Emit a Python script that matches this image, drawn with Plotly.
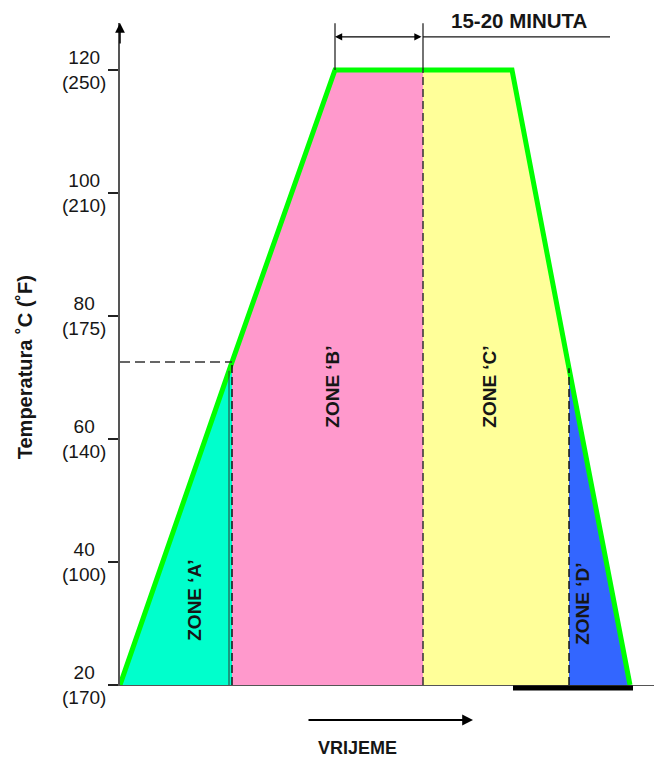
import numpy as np
import plotly.graph_objects as go

# ---------------- data ----------------
profile_time = [0.0, 22.4, 43.0, 78.4, 89.8, 102.0]
profile_temp = [20.0, 72.5, 120.0, 120.0, 71.5, 20.0]

zone_edges = [0.0, 22.4, 60.6, 89.8, 102.0]
zone_names = ["ZONE \u2018A\u2019", "ZONE \u2018B\u2019", "ZONE \u2018C\u2019", "ZONE \u2018D\u2019"]
zone_colors = ["#00FFCC", "#FF99CC", "#FFFF99", "#3366FF"]
zone_label_x = [15.0, 42.6, 74.0, 92.6]
zone_label_y = [33.7, 68.5, 68.5, 33.2]

tick_vals = [20, 40, 60, 80, 100, 120]
tick_f = ["(170)", "(100)", "(140)", "(175)", "(210)", "(250)"]

hold_start = 43.0      # start of 15-20 min dimension
hold_mid = 60.6        # B/C boundary
dim_line_end = 98.0
dim_y = 125.4
bottom_bar = [78.6, 102.6]
time_arrow = [37.4, 70.6]

FONT = "Liberation Sans, Arial, sans-serif"
INK = "#161616"

fig = go.Figure()

# zone fills
pt = np.array(profile_time)
pv = np.array(profile_temp)
for i in range(4):
    x0, x1 = zone_edges[i], zone_edges[i + 1]
    inner = [(t, v) for t, v in zip(pt, pv) if x0 < t < x1]
    xs = [x0, x0] + [p[0] for p in inner] + [x1, x1]
    ys = [20, float(np.interp(x0, pt, pv))] + [p[1] for p in inner] + [float(np.interp(x1, pt, pv)), 20]
    fig.add_trace(go.Scatter(x=xs, y=ys, fill="toself", fillcolor=zone_colors[i],
                             mode="lines", line=dict(width=0), hoverinfo="skip",
                             showlegend=False))

# green profile
fig.add_trace(go.Scatter(x=profile_time, y=profile_temp, mode="lines",
                         line=dict(color="#00FF00", width=5), showlegend=False,
                         hoverinfo="skip"))

shapes = []
knee1 = float(np.interp(zone_edges[1], pt, pv))
knee2 = float(np.interp(zone_edges[3], pt, pv))
# dashed boundaries
shapes.append(dict(type="line", x0=zone_edges[1], x1=zone_edges[1], y0=20, y1=knee1,
                   line=dict(color=INK, width=1.5, dash="8px,4px")))
shapes.append(dict(type="line", x0=zone_edges[1] - 0.6, x1=zone_edges[1] - 0.6, y0=20,
                   y1=float(np.interp(zone_edges[1] - 0.6, pt, pv)),
                   line=dict(color="#333", width=1)))
shapes.append(dict(type="line", x0=zone_edges[2], x1=zone_edges[2], y0=20, y1=120,
                   line=dict(color="#333", width=1.5, dash="8px,4px")))
shapes.append(dict(type="line", x0=zone_edges[3], x1=zone_edges[3], y0=20, y1=knee2,
                   line=dict(color=INK, width=1.5, dash="8px,4px")))
# horizontal dashed to knee
shapes.append(dict(type="line", x0=0, x1=zone_edges[1], y0=knee1, y1=knee1,
                   line=dict(color="#333", width=1.5, dash="10px,5px")))
# dimension extension lines
for xv in [hold_start, hold_mid]:
    shapes.append(dict(type="line", x0=xv, x1=xv, y0=120, y1=127.6,
                       line=dict(color=INK, width=1.2)))
shapes.append(dict(type="line", x0=hold_mid, x1=dim_line_end, y0=dim_y, y1=dim_y,
                   line=dict(color=INK, width=1.2)))
# bottom black bar
shapes.append(dict(type="line", xref="x", yref="paper", x0=bottom_bar[0], x1=bottom_bar[1],
                   y0=-0.0045, y1=-0.0045, line=dict(color="black", width=5)))

annotations = []
# y tick labels
for v, f in zip(tick_vals, tick_f):
    annotations.append(dict(xref="paper", x=0, xanchor="right", xshift=-12,
                            yref="y", y=v, yanchor="middle", showarrow=False,
                            text=f"{v}<br>{f}", align="center",
                            font=dict(family=FONT, size=19, color=INK)))
# zone labels
for name, lx, ly in zip(zone_names, zone_label_x, zone_label_y):
    annotations.append(dict(x=lx, y=ly, text=f"<b>{name}</b>", textangle=-90,
                            showarrow=False, font=dict(family=FONT, size=19, color=INK)))
# y title
annotations.append(dict(xref="paper", x=0, xshift=-95, yref="paper", y=0.48,
                        xanchor="center", yanchor="middle",
                        text="<b>Temperatura \u02daC (\u02daF)</b>", textangle=-90,
                        showarrow=False, font=dict(family=FONT, size=20, color=INK)))
# y axis arrow
annotations.append(dict(xref="paper", x=0, yref="paper", y=1, ax=0, ay=22, text="",
                        showarrow=True, arrowhead=2, arrowsize=1.3, arrowwidth=1.5,
                        arrowcolor="black"))
# dimension double arrow
annotations.append(dict(x=hold_start, y=dim_y, ax=hold_mid, ay=dim_y, axref="x", ayref="y",
                        text="", showarrow=True, arrowhead=2, arrowside="end+start",
                        arrowsize=1.2, arrowwidth=1.2, arrowcolor="black"))
annotations.append(dict(x=79.8, xref="x", yref="paper", y=1.0045, xanchor="center",
                        yanchor="middle", text="<b>15-20 MINUTA</b>",
                        showarrow=False, font=dict(family=FONT, size=20.5, color=INK)))
# time arrow & label
annotations.append(dict(x=time_arrow[1], xref="x", yref="paper", y=-0.0529,
                        ax=time_arrow[0], axref="x", ay=0, text="", showarrow=True,
                        arrowhead=2, arrowsize=1.2, arrowwidth=1.8, arrowcolor="black"))
annotations.append(dict(x=47.4, xref="x", yref="paper", y=-0.095, xanchor="center",
                        yanchor="middle", text="<b>VRIJEME</b>",
                        showarrow=False, font=dict(family=FONT, size=18, color=INK)))

fig.update_layout(
    width=654, height=752,
    margin=dict(l=112, r=0, t=15, b=75),
    paper_bgcolor="white", plot_bgcolor="white",
    shapes=shapes, annotations=annotations,
    xaxis=dict(range=[0, 108.4], showgrid=False, zeroline=False, showticklabels=False,
               showline=True, linecolor="#555", linewidth=1.2, ticks=""),
    yaxis=dict(range=[20, 127.64], showgrid=False, zeroline=False, showticklabels=False,
               showline=True, linecolor="#555", linewidth=1.5,
               tickvals=tick_vals, ticks="outside", ticklen=10, tickcolor="#222",
               tickwidth=1.5),
)

fig.write_html("out.html")
